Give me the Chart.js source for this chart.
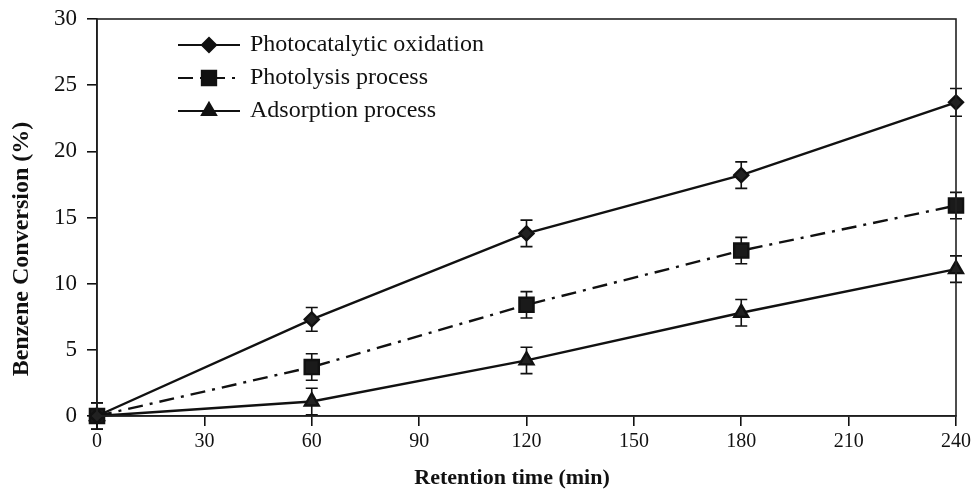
<!DOCTYPE html>
<html>
<head>
<meta charset="utf-8">
<script src="https://cdn.jsdelivr.net/npm/chart.js@4.4.1/dist/chart.umd.min.js"></script>
<style>
  html, body { margin: 0; padding: 0; background: #fff; }
  #wrap { width: 971px; height: 492px; }
</style>
</head>
<body>
<div id="wrap"><canvas id="chart" width="971" height="492"></canvas></div>
<script>
// retention time (min)
const times = [0, 60, 120, 180, 240];

// benzene conversion (%)
const photocatalytic = [0, 7.3, 13.8, 18.2, 23.7];
const photolysis = [0, 3.7, 8.4, 12.5, 15.9];
const adsorption = [0, 1.1, 4.2, 7.8, 11.1];

// error bars (+/- %)
const photocatalyticErr = [1.0, 0.9, 1.0, 1.0, 1.05];
const photolysisErr = [1.0, 1.0, 1.0, 1.0, 1.0];
const adsorptionErr = [1.0, 1.0, 1.0, 1.0, 1.0];

const seriesNames = ['Photocatalytic oxidation', 'Photolysis process', 'Adsorption process'];

const xTicks = [0, 30, 60, 90, 120, 150, 180, 210, 240];
const yTicks = [0, 5, 10, 15, 20, 25, 30];

const xTitle = 'Retention time (min)';
const yTitle = 'Benzene Conversion (%)';

const INK = '#111';
const SERIF = '"Liberation Serif", "Times New Roman", serif';

function toPoints(ys) {
  return times.map((t, i) => ({ x: t, y: ys[i] }));
}

// Error bars, drawn through the chart's scales
const errorBars = {
  id: 'errorBars',
  beforeDatasetsDraw(chart) {
    const { ctx, scales: { x, y } } = chart;
    ctx.save();
    ctx.strokeStyle = INK;
    ctx.lineWidth = 1.6;
    chart.data.datasets.forEach(ds => {
      ds.data.forEach((p, i) => {
        const e = ds.errors[i];
        const px = x.getPixelForValue(p.x);
        const top = y.getPixelForValue(p.y + e);
        const bot = y.getPixelForValue(p.y - e);
        ctx.beginPath();
        ctx.moveTo(px, top); ctx.lineTo(px, bot);
        ctx.moveTo(px - 6, top); ctx.lineTo(px + 6, top);
        ctx.moveTo(px - 6, bot); ctx.lineTo(px + 6, bot);
        ctx.stroke();
      });
    });
    ctx.restore();
  }
};

// Box frame around the plot area + axis titles (placed off-centre like the original)
const frame = {
  id: 'frame',
  afterDraw(chart) {
    const { ctx, chartArea: a } = chart;
    ctx.save();
    ctx.strokeStyle = '#222';
    ctx.lineWidth = 1.6;
    ctx.strokeRect(a.left, a.top, a.right - a.left, a.bottom - a.top);

    ctx.fillStyle = '#111';
    ctx.textAlign = 'center';
    ctx.textBaseline = 'middle';
    ctx.font = 'bold 22px ' + SERIF;
    ctx.fillText(xTitle, 512, 478);

    ctx.translate(22, 249);
    ctx.rotate(-Math.PI / 2);
    ctx.font = 'bold 24px ' + SERIF;
    ctx.fillText(yTitle, 0, 0);
    ctx.restore();
  }
};

// Legend inside the plot: line sample + marker + label
const insideLegend = {
  id: 'insideLegend',
  afterDraw(chart) {
    const { ctx } = chart;
    const x0 = 178, x1 = 240, tx = 250;
    const rows = [45, 78, 111];
    ctx.save();
    chart.data.datasets.forEach((ds, i) => {
      const yy = rows[i];
      ctx.strokeStyle = INK;
      ctx.lineWidth = 2.2;
      ctx.setLineDash(ds.borderDash || []);
      ctx.beginPath();
      ctx.moveTo(x0, yy); ctx.lineTo(x1, yy);
      ctx.stroke();
      ctx.setLineDash([]);
      ctx.fillStyle = INK;
      Chart.helpers.drawPoint(ctx, {
        pointStyle: ds.pointStyle, radius: ds.pointRadius, borderWidth: 1, rotation: 0
      }, (x0 + x1) / 2, yy);
      ctx.fillStyle = '#111';
      ctx.font = '24px ' + SERIF;
      ctx.textBaseline = 'middle';
      ctx.fillText(ds.label, tx, yy);
    });
    ctx.restore();
  }
};

new Chart(document.getElementById('chart'), {
  type: 'line',
  data: {
    datasets: [
      { label: seriesNames[0], data: toPoints(photocatalytic), errors: photocatalyticErr,
        borderColor: INK, backgroundColor: INK, borderWidth: 2.4,
        pointStyle: 'rectRot', pointRadius: 7, pointBackgroundColor: '#222', pointBorderColor: INK },
      { label: seriesNames[1], data: toPoints(photolysis), errors: photolysisErr,
        borderColor: INK, backgroundColor: INK, borderWidth: 2.4, borderDash: [15, 7, 3, 7],
        pointStyle: 'rect', pointRadius: 10, pointBackgroundColor: '#1a1a1a', pointBorderColor: INK },
      { label: seriesNames[2], data: toPoints(adsorption), errors: adsorptionErr,
        borderColor: INK, backgroundColor: INK, borderWidth: 2.4,
        pointStyle: 'triangle', pointRadius: 8, pointBackgroundColor: '#222', pointBorderColor: INK }
    ]
  },
  options: {
    responsive: false,
    animation: false,
    clip: false,
    layout: { padding: { top: 19, right: 15, left: 0, bottom: 0 } },
    plugins: { legend: { display: false }, tooltip: { enabled: false } },
    scales: {
      x: {
        type: 'linear', min: 0, max: 240,
        afterFit(s) { s.height = 76; s.paddingLeft = 0; s.paddingRight = 0; },
        afterBuildTicks(s) { s.ticks = xTicks.map(v => ({ value: v })); },
        grid: { drawOnChartArea: false, drawTicks: true, tickLength: 10, color: INK, lineWidth: 1.6 },
        border: { display: true, color: INK, width: 1.6 },
        ticks: { color: '#111', padding: 4, maxRotation: 0, font: { family: SERIF, size: 20 } },
        title: { display: false }
      },
      y: {
        type: 'linear', min: 0, max: 30,
        afterFit(s) { s.width = 97; s.paddingTop = 0; s.paddingBottom = 0; },
        afterBuildTicks(s) { s.ticks = yTicks.map(v => ({ value: v })); },
        grid: { drawOnChartArea: false, drawTicks: true, tickLength: 10, color: INK, lineWidth: 1.6 },
        border: { display: true, color: INK, width: 1.6 },
        ticks: { color: '#111', padding: 10, font: { family: SERIF, size: 23 } },
        title: { display: false }
      }
    }
  },
  plugins: [errorBars, frame, insideLegend]
});
</script>
</body>
</html>
